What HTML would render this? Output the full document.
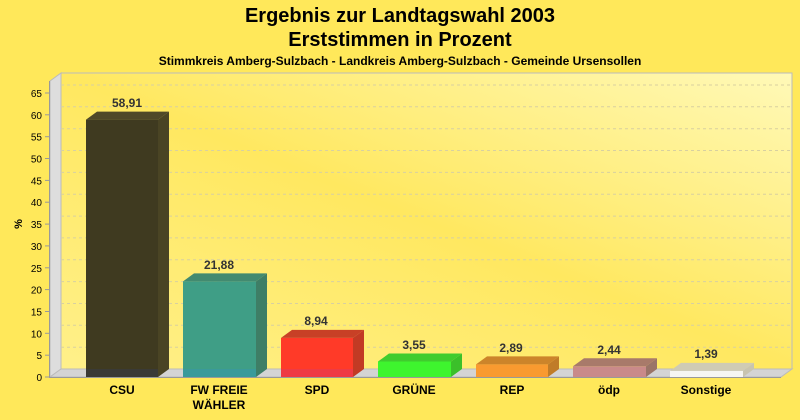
<!DOCTYPE html>
<html><head><meta charset="utf-8"><style>
body{margin:0;background:#FFE85A;}
svg{display:block;font-family:"Liberation Sans",Arial,sans-serif;}
</style></head><body>
<svg width="800" height="420" viewBox="0 0 800 420" xmlns="http://www.w3.org/2000/svg">
<defs>
<linearGradient id="wall" x1="0" y1="1" x2="1" y2="0">
<stop offset="0" stop-color="#FFF08A"/><stop offset="0.5" stop-color="#FFE860"/><stop offset="1" stop-color="#FFF9B8"/>
</linearGradient>
</defs>
<rect width="800" height="420" fill="#FFE85A"/>
<text x="400" y="22" font-size="20" font-weight="bold" text-anchor="middle">Ergebnis zur Landtagswahl 2003</text>
<text x="400" y="46" font-size="20" font-weight="bold" text-anchor="middle">Erststimmen in Prozent</text>
<text x="400" y="65" font-size="12" font-weight="bold" text-anchor="middle">Stimmkreis Amberg-Sulzbach - Landkreis Amberg-Sulzbach - Gemeinde Ursensollen</text>
<rect x="61" y="73" width="731" height="296" fill="url(#wall)" stroke="#bbb" stroke-width="1"/>
<polygon points="50,81 61,73 61,369 50,377" fill="#DDDDDD" stroke="#bbb" stroke-width="1"/>
<polygon points="50,377 61,369 792,369 781,377" fill="#D4D4D4" stroke="#bbb" stroke-width="1"/>
<g stroke="#d8d0a0" stroke-dasharray="3,3" stroke-width="1">
<line x1="61" y1="347.2" x2="792" y2="347.2"/><line x1="61" y1="325.3" x2="792" y2="325.3"/>
<line x1="61" y1="303.5" x2="792" y2="303.5"/><line x1="61" y1="281.6" x2="792" y2="281.6"/>
<line x1="61" y1="259.8" x2="792" y2="259.8"/><line x1="61" y1="237.9" x2="792" y2="237.9"/>
<line x1="61" y1="216.1" x2="792" y2="216.1"/><line x1="61" y1="194.2" x2="792" y2="194.2"/>
<line x1="61" y1="172.4" x2="792" y2="172.4"/><line x1="61" y1="150.5" x2="792" y2="150.5"/>
<line x1="61" y1="128.7" x2="792" y2="128.7"/><line x1="61" y1="106.8" x2="792" y2="106.8"/>
<line x1="61" y1="85" x2="792" y2="85"/>
</g>
<line x1="49.5" y1="81" x2="49.5" y2="378" stroke="#999"/>
<g font-size="10" text-anchor="end" fill="#000">
<text x="42" y="381">0</text><text x="42" y="359.2">5</text><text x="42" y="337.3">10</text>
<text x="42" y="315.5">15</text><text x="42" y="293.6">20</text><text x="42" y="271.8">25</text>
<text x="42" y="249.9">30</text><text x="42" y="228.1">35</text><text x="42" y="206.2">40</text>
<text x="42" y="184.4">45</text><text x="42" y="162.5">50</text><text x="42" y="140.7">55</text>
<text x="42" y="118.8">60</text><text x="42" y="97">65</text>
</g>
<g stroke="#999"><line x1="45" y1="377" x2="50" y2="377"/><line x1="45" y1="355.2" x2="50" y2="355.2"/><line x1="45" y1="333.3" x2="50" y2="333.3"/><line x1="45" y1="311.5" x2="50" y2="311.5"/><line x1="45" y1="289.6" x2="50" y2="289.6"/><line x1="45" y1="267.8" x2="50" y2="267.8"/><line x1="45" y1="245.9" x2="50" y2="245.9"/><line x1="45" y1="224.1" x2="50" y2="224.1"/><line x1="45" y1="202.2" x2="50" y2="202.2"/><line x1="45" y1="180.4" x2="50" y2="180.4"/><line x1="45" y1="158.5" x2="50" y2="158.5"/><line x1="45" y1="136.7" x2="50" y2="136.7"/><line x1="45" y1="114.8" x2="50" y2="114.8"/><line x1="45" y1="93" x2="50" y2="93"/></g>
<text x="22" y="224" font-size="11" font-weight="bold" text-anchor="middle" transform="rotate(-90 22 224)">%</text>
<g>
<rect x="86" y="119.6" width="72" height="257.4" fill="#3F3A20"/>
<polygon points="158,119.6 169,111.6 169,369 158,377" fill="#4A4424"/>
<polygon points="86,119.6 97,111.6 169,111.6 158,119.6" fill="#4F4828"/>
<rect x="86" y="369" width="72" height="8" fill="#3a3a36"/>
<rect x="183" y="281.4" width="73" height="95.6" fill="#3F9E86"/>
<polygon points="256,281.4 267,273.4 267,369 256,377" fill="#3E7E66"/>
<polygon points="183,281.4 194,273.4 267,273.4 256,281.4" fill="#428A70"/>
<rect x="183" y="369" width="73" height="8" fill="#3a9a9a"/>
<rect x="281" y="337.9" width="72" height="39.1" fill="#FF3A28"/>
<polygon points="353,337.9 364,329.9 364,369 353,377" fill="#C23A24"/>
<polygon points="281,337.9 292,329.9 364,329.9 353,337.9" fill="#C84026"/>
<rect x="281" y="369" width="72" height="8" fill="#ee3a44"/>
<rect x="378" y="361.5" width="73" height="15.5" fill="#3EF52E"/>
<polygon points="451,361.5 462,353.5 462,369 451,377" fill="#3BC02A"/>
<polygon points="378,361.5 389,353.5 462,353.5 451,361.5" fill="#40CC2E"/>
<rect x="476" y="364.4" width="72" height="12.6" fill="#F99A30"/>
<polygon points="548,364.4 559,356.4 559,369 548,377" fill="#C07C28"/>
<polygon points="476,364.4 487,356.4 559,356.4 548,364.4" fill="#CC842A"/>
<rect x="573" y="366.3" width="73" height="10.7" fill="#C98A8A"/>
<polygon points="646,366.3 657,358.3 657,369 646,377" fill="#9A7468"/>
<polygon points="573,366.3 584,358.3 657,358.3 646,366.3" fill="#A87A6A"/>
<rect x="670" y="370.9" width="73" height="6.1" fill="#F6F6F2"/>
<polygon points="743,370.9 754,362.9 754,369 743,377" fill="#C8C4B0"/>
<polygon points="670,370.9 681,362.9 754,362.9 743,370.9" fill="#CFCBB4"/>
</g>
<line x1="50" y1="377.5" x2="781" y2="377.5" stroke="#999"/>
<g font-size="12" font-weight="bold" text-anchor="middle" fill="#333">
<text x="127" y="107">58,91</text>
<text x="219" y="269">21,88</text>
<text x="316" y="325">8,94</text>
<text x="414" y="349">3,55</text>
<text x="511" y="352">2,89</text>
<text x="609" y="354">2,44</text>
<text x="706" y="358">1,39</text>
</g>
<g font-size="12" font-weight="bold" text-anchor="middle" fill="#000">
<text x="122" y="394">CSU</text>
<text x="219" y="394">FW FREIE</text>
<text x="219" y="409">WÄHLER</text>
<text x="317" y="394">SPD</text>
<text x="414" y="394">GRÜNE</text>
<text x="512" y="394">REP</text>
<text x="609" y="394">ödp</text>
<text x="706" y="394">Sonstige</text>
</g>
</svg>
</body></html>
